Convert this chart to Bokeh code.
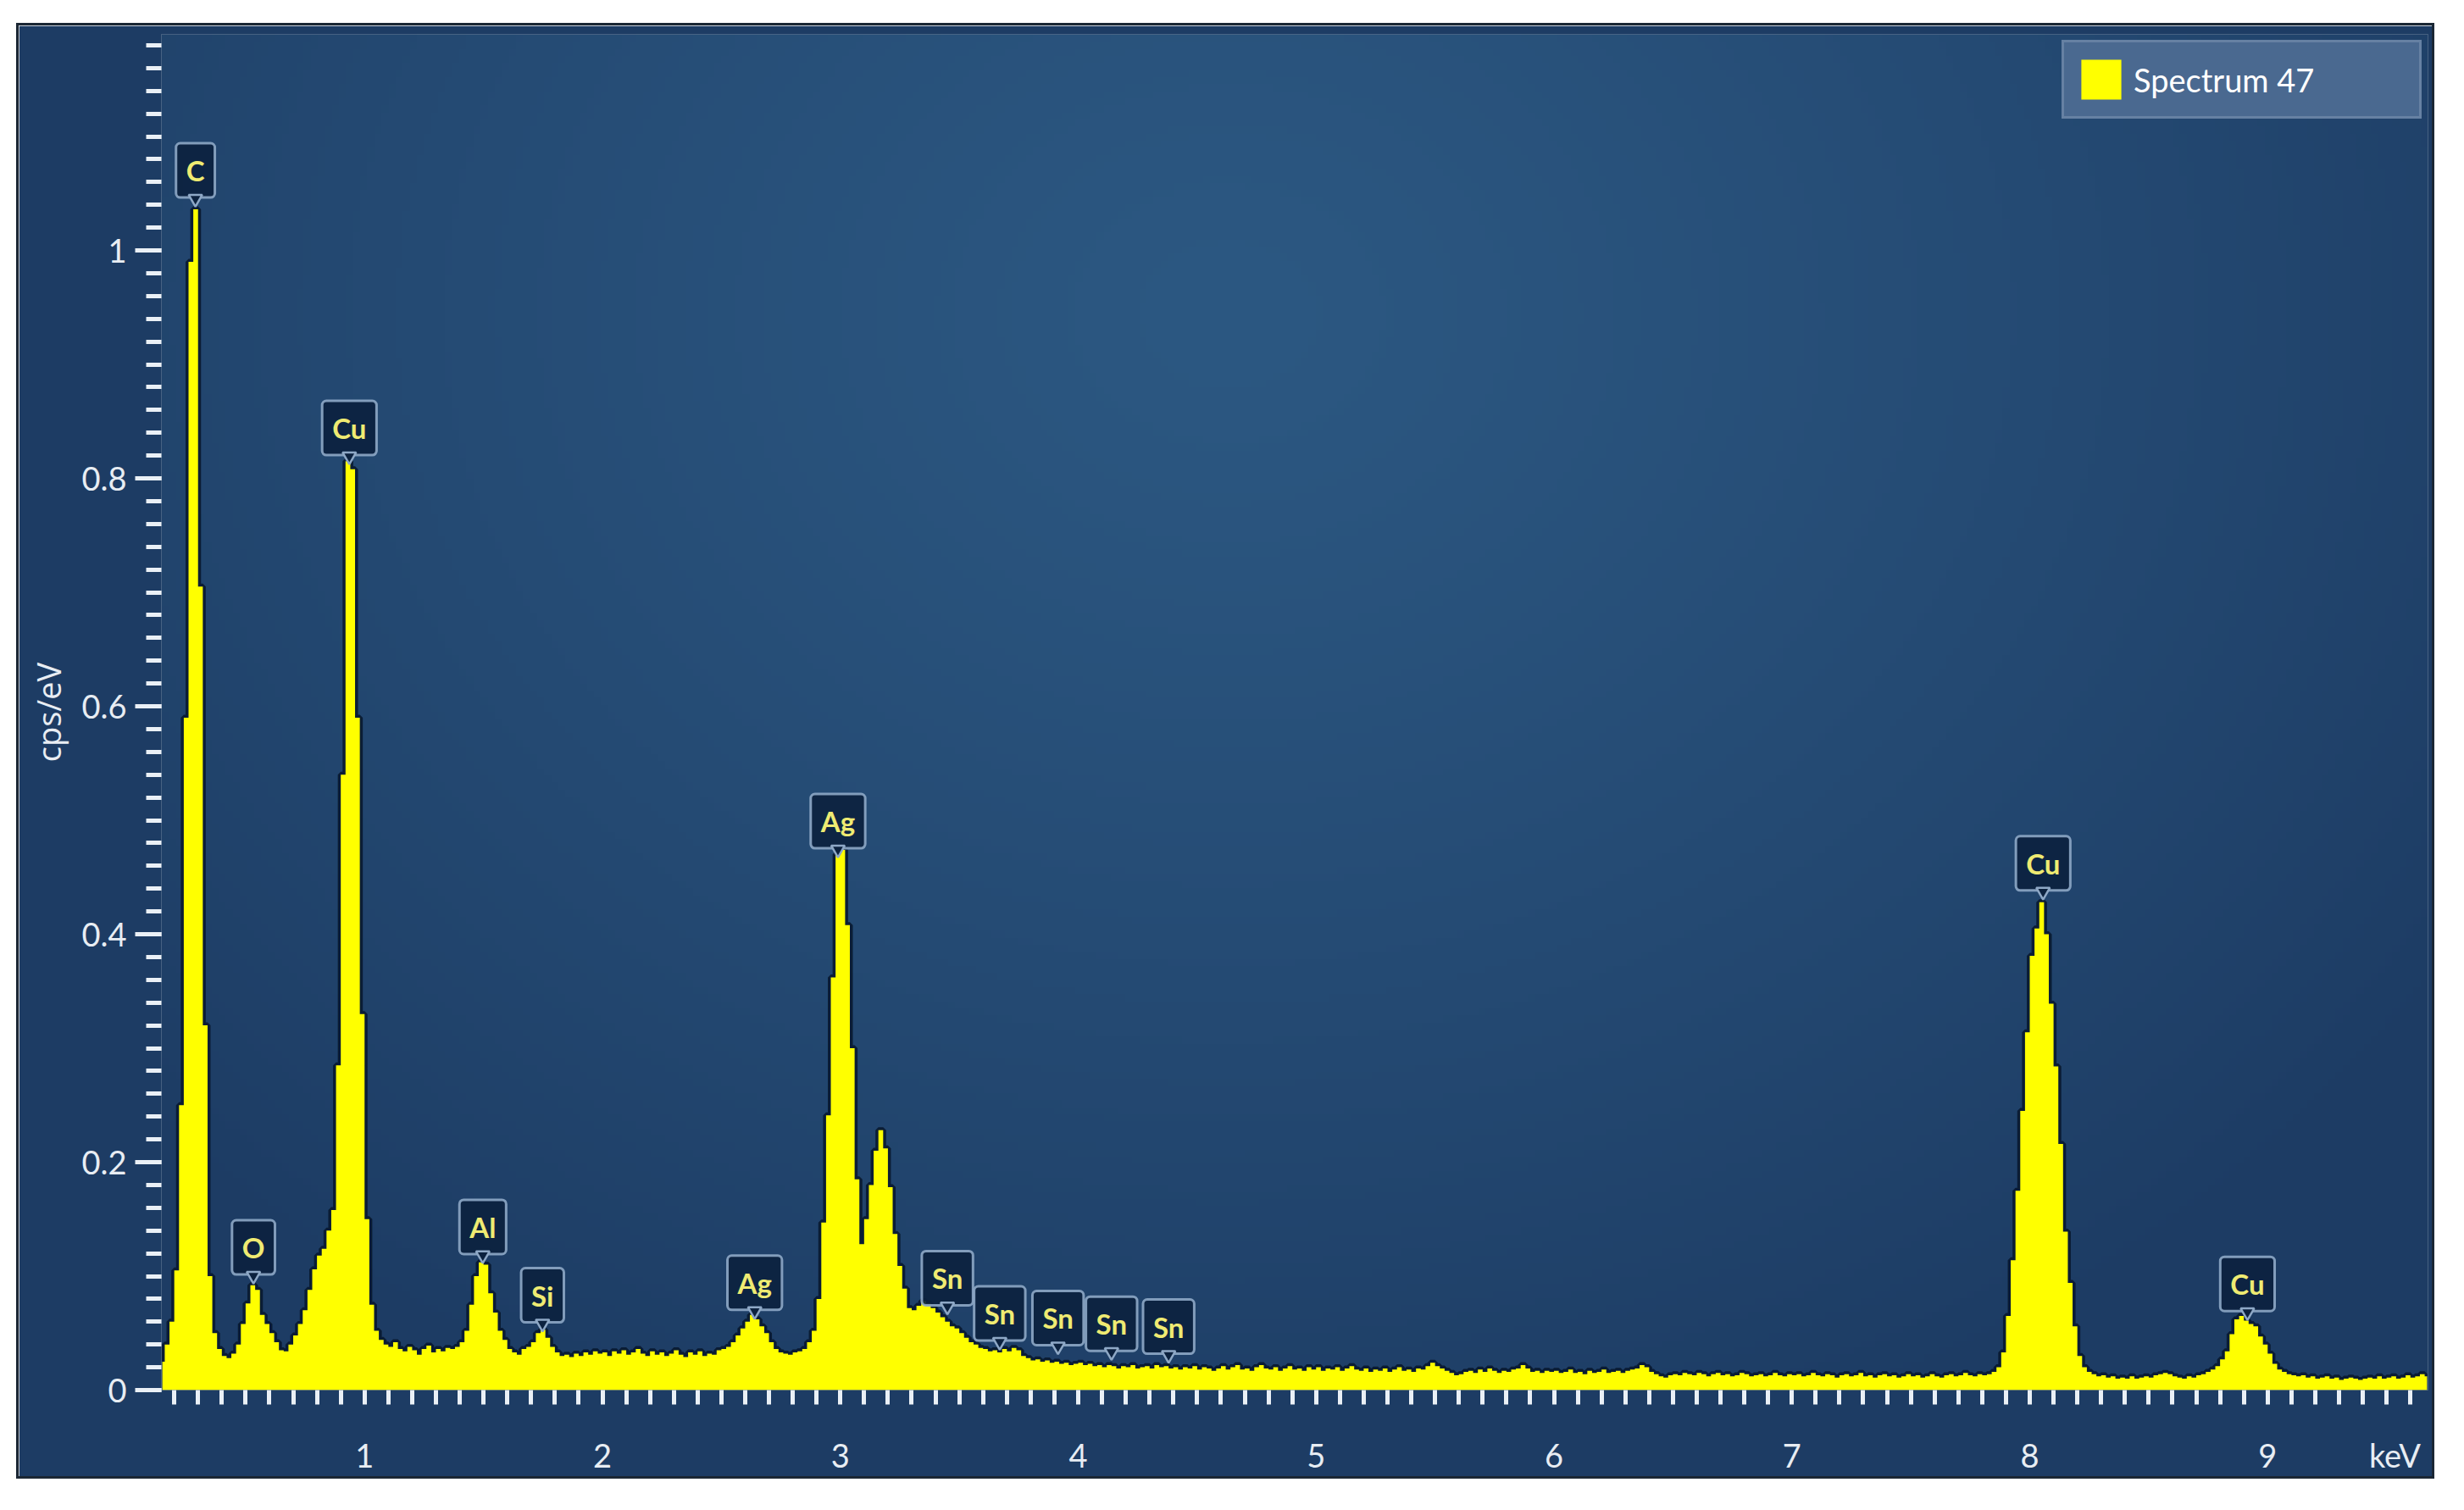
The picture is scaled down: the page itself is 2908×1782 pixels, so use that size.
import numpy as np
from bokeh.plotting import figure
from bokeh.models import Range1d, LinearAxis, FixedTicker, Label, Legend, LegendItem
from bokeh.embed import file_html
from bokeh.resources import INLINE

# ---------------- data ----------------
channel_width_kev = 0.02

# cps/eV per 20 eV channel, channel centres starting at the given energy
cps_0 = [  # 0.15 .. 0.99 keV
    0.025, 0.040, 0.060, 0.105, 0.250, 0.590, 0.990, 1.036, 0.705, 0.320,
    0.100, 0.050, 0.036, 0.030, 0.028, 0.032, 0.040, 0.058, 0.076, 0.092,
    0.088, 0.066, 0.058, 0.050, 0.042, 0.035, 0.034, 0.040, 0.048, 0.058,
    0.070, 0.088, 0.106, 0.118, 0.124, 0.140, 0.158, 0.285, 0.540, 0.815,
    0.808, 0.590, 0.330]
cps_1 = [  # 1.01 .. 1.99 keV
    0.150, 0.075, 0.052, 0.044, 0.040, 0.038, 0.042, 0.036, 0.034, 0.038,
    0.035, 0.031, 0.036, 0.039, 0.033, 0.036, 0.034, 0.037, 0.036, 0.038,
    0.042, 0.052, 0.075, 0.100, 0.112, 0.110, 0.085, 0.068, 0.052, 0.044,
    0.036, 0.033, 0.031, 0.036, 0.038, 0.042, 0.050, 0.053, 0.046, 0.038,
    0.033, 0.030, 0.031, 0.029, 0.032, 0.030, 0.033, 0.031, 0.034, 0.032]
cps_2 = [  # 2.01 .. 2.99 keV
    0.033, 0.030, 0.034, 0.032, 0.035, 0.031, 0.033, 0.036, 0.032, 0.030,
    0.034, 0.031, 0.033, 0.030, 0.032, 0.035, 0.031, 0.029, 0.033, 0.031,
    0.034, 0.030, 0.032, 0.031, 0.035, 0.036, 0.038, 0.042, 0.048, 0.054,
    0.060, 0.066, 0.062, 0.056, 0.050, 0.042, 0.036, 0.033, 0.032, 0.031,
    0.033, 0.034, 0.036, 0.042, 0.052, 0.080, 0.147, 0.241, 0.362, 0.470]
cps_3 = [  # 3.01 .. 3.99 keV
    0.474, 0.408, 0.300, 0.185, 0.128, 0.150, 0.180, 0.210, 0.228, 0.212,
    0.178, 0.137, 0.109, 0.089, 0.072, 0.070, 0.074, 0.078, 0.076, 0.072,
    0.068, 0.064, 0.060, 0.056, 0.054, 0.050, 0.046, 0.042, 0.040, 0.037,
    0.036, 0.034, 0.035, 0.033, 0.036, 0.034, 0.037, 0.035, 0.030, 0.028,
    0.026, 0.027, 0.025, 0.026, 0.024, 0.025, 0.023, 0.024, 0.022, 0.023]
cps_4 = [  # 4.01 .. 4.99 keV
    0.024, 0.022, 0.023, 0.021, 0.022, 0.020, 0.022, 0.021, 0.019, 0.021,
    0.020, 0.022, 0.019, 0.020, 0.021, 0.019, 0.022, 0.020, 0.021, 0.019,
    0.020, 0.018, 0.020, 0.019, 0.021, 0.018, 0.020, 0.019, 0.017, 0.019,
    0.021, 0.018, 0.020, 0.022, 0.018, 0.019, 0.017, 0.020, 0.022, 0.019,
    0.018, 0.020, 0.017, 0.019, 0.021, 0.018, 0.019, 0.017, 0.020, 0.018]
cps_5 = [  # 5.01 .. 5.99 keV
    0.020, 0.017, 0.019, 0.018, 0.020, 0.017, 0.019, 0.021, 0.018, 0.017,
    0.019, 0.016, 0.018, 0.017, 0.019, 0.016, 0.018, 0.020, 0.017, 0.018,
    0.016, 0.019, 0.018, 0.021, 0.024, 0.021, 0.019, 0.017, 0.015, 0.013,
    0.014, 0.016, 0.017, 0.015, 0.018, 0.016, 0.019, 0.017, 0.015, 0.017,
    0.016, 0.018, 0.019, 0.022, 0.019, 0.016, 0.017, 0.015, 0.017, 0.016]
cps_6 = [  # 6.01 .. 6.99 keV
    0.017, 0.015, 0.016, 0.018, 0.015, 0.016, 0.014, 0.017, 0.015, 0.016,
    0.018, 0.015, 0.016, 0.017, 0.015, 0.017, 0.018, 0.019, 0.022, 0.020,
    0.016, 0.014, 0.012, 0.011, 0.013, 0.014, 0.013, 0.015, 0.014, 0.013,
    0.015, 0.014, 0.012, 0.014, 0.015, 0.013, 0.014, 0.012, 0.013, 0.015,
    0.014, 0.012, 0.013, 0.014, 0.012, 0.013, 0.015, 0.013, 0.012, 0.014]
cps_7 = [  # 7.01 .. 7.99 keV
    0.013, 0.014, 0.012, 0.013, 0.015, 0.013, 0.012, 0.014, 0.013, 0.011,
    0.013, 0.014, 0.012, 0.013, 0.015, 0.012, 0.013, 0.011, 0.013, 0.014,
    0.012, 0.013, 0.011, 0.012, 0.014, 0.012, 0.013, 0.011, 0.012, 0.014,
    0.012, 0.011, 0.013, 0.014, 0.012, 0.013, 0.015, 0.013, 0.012, 0.014,
    0.013, 0.014, 0.016, 0.020, 0.033, 0.065, 0.114, 0.175, 0.245, 0.314]
cps_8 = [  # 8.01 .. 8.99 keV
    0.381, 0.405, 0.428, 0.400, 0.339, 0.284, 0.216, 0.139, 0.094, 0.056,
    0.030, 0.020, 0.016, 0.014, 0.012, 0.013, 0.011, 0.012, 0.010, 0.011,
    0.010, 0.012, 0.010, 0.011, 0.012, 0.011, 0.013, 0.014, 0.015, 0.014,
    0.012, 0.011, 0.010, 0.012, 0.011, 0.013, 0.014, 0.016, 0.018, 0.021,
    0.027, 0.034, 0.049, 0.062, 0.065, 0.061, 0.058, 0.056, 0.047, 0.040]
cps_9 = [  # 9.01 .. 9.67 keV
    0.032, 0.023, 0.018, 0.016, 0.014, 0.013, 0.012, 0.013, 0.011, 0.012,
    0.010, 0.011, 0.012, 0.010, 0.011, 0.009, 0.010, 0.011, 0.010, 0.009,
    0.010, 0.011, 0.010, 0.012, 0.010, 0.011, 0.012, 0.010, 0.011, 0.013,
    0.011, 0.012, 0.014, 0.012]
segment_start_kev = [0.15, 1.01, 2.01, 3.01, 4.01, 5.01, 6.01, 7.01, 8.01, 9.01]
segments = [cps_0, cps_1, cps_2, cps_3, cps_4, cps_5, cps_6, cps_7, cps_8, cps_9]

peak_labels = ["C", "O", "Cu", "Al", "Si", "Ag", "Ag", "Sn", "Sn", "Sn", "Sn", "Sn", "Cu", "Cu"]
peak_kev = [0.289, 0.533, 0.936, 1.497, 1.748, 2.64, 2.99, 3.45, 3.67, 3.915, 4.14, 4.38, 8.056, 8.915]
peak_cps = [1.036, 0.091, 0.810, 0.109, 0.049, 0.060, 0.465, 0.064, 0.033, 0.029, 0.024, 0.0215, 0.428, 0.059]

x_major_ticks = [1, 2, 3, 4, 5, 6, 7, 8, 9]
y_major_ticks = [0, 0.2, 0.4, 0.6, 0.8, 1.0]
y_tick_labels = {0: "0", 0.2: "0.2", 0.4: "0.4", 0.6: "0.6", 0.8: "0.8", 1.0: "1"}
legend_label = "Spectrum 47"
x_unit = "keV"
x_unit_at = 9.535
y_title = "cps/eV"

energy, cps = [], []
for start, vals in zip(segment_start_kev, segments):
    for i, v in enumerate(vals):
        energy.append(round(start + i * channel_width_kev, 3))
        cps.append(v)

# ---------------- layout / style ----------------
FONT = "Lato"
X_START, X_END = 0.146, 9.674
Y_START, Y_END = 0.0, 1600 / 1345
FRAME_W, FRAME_H = 2675, 1600
PX_PER_CPS = FRAME_H / (Y_END - Y_START)
EDGE = "#1d3c64"
TICK_COL = "#eaf0f6"
LABEL_COL = "#e8edf3"
X_LABEL_STANDOFF = 21
X_MAJOR_LEN = 32

p = figure(frame_width=FRAME_W, frame_height=FRAME_H,
           x_range=Range1d(X_START, X_END), y_range=Range1d(Y_START, Y_END),
           output_backend="svg", toolbar_location=None,
           min_border_left=168, min_border_right=5, min_border_top=10, min_border_bottom=101,
           border_fill_color=EDGE, background_fill_color=EDGE, outline_line_color=None)
p.grid.visible = False
p.styles = {"margin-left": "22px", "margin-top": "30px", "outline": "3px solid #1b2734"}

# radial glow of the background
nx, ny = 320, 192
gx = (np.arange(nx) + 0.5) / nx * FRAME_W
gy = (1 - (np.arange(ny) + 0.5) / ny) * FRAME_H
GX, GY = np.meshgrid(gx, gy)
t = np.clip(np.sqrt(((GX - 1260) / 1750) ** 2 + ((GY - 330) / 1450) ** 2), 0, 1) ** 1.2
c0 = np.array([44, 88, 130], dtype=float)
c1 = np.array([29, 60, 100], dtype=float)
rgb = c0[None, None, :] * (1 - t[..., None]) + c1[None, None, :] * t[..., None]
img = np.zeros((ny, nx), dtype=np.uint32)
view = img.view(dtype=np.uint8).reshape((ny, nx, 4))
view[..., :3] = rgb.astype(np.uint8)
view[..., 3] = 255
p.image_rgba(image=[img], x=X_START, y=Y_START, dw=X_END - X_START, dh=Y_END - Y_START)

# spectrum: dark halo then yellow filled histogram
p.step(x=energy, y=cps, mode="center", line_color="#07162b", line_width=7, line_alpha=0.85)
try:
    area = p.varea_step(x=energy, y1=0, y2=cps, step_mode="center",
                        fill_color="#ffff00", fill_alpha=1.0)
except AttributeError:
    xs, ys = [energy[0] - channel_width_kev / 2], [0]
    for e, v in zip(energy, cps):
        xs += [e - channel_width_kev / 2, e + channel_width_kev / 2]
        ys += [v, v]
    xs.append(energy[-1] + channel_width_kev / 2)
    ys.append(0)
    area = p.patch(xs, ys, fill_color="#ffff00", line_color=None)

# ---------------- axes ----------------
# primary x axis: labels (integers + unit) and 0.1 keV minor ticks; its major tick marks are hidden
xa = p.xaxis[0]
x_label_map = {float(v): str(v) for v in x_major_ticks}
x_label_map[x_unit_at] = x_unit
xa.ticker = FixedTicker(ticks=[float(v) for v in x_major_ticks] + [x_unit_at],
                        minor_ticks=[round(0.2 + 0.1 * i, 1) for i in range(95)])
xa.major_label_overrides = x_label_map
ya = p.yaxis[0]
ya.ticker = FixedTicker(ticks=y_major_ticks,
                        minor_ticks=[round(0.02 * i, 2) for i in range(60)])
ya.major_label_overrides = y_tick_labels
for ax in (xa, ya):
    ax.axis_line_color = None
    ax.major_tick_in = 0
    ax.minor_tick_in = 0
    ax.major_tick_line_color = TICK_COL
    ax.minor_tick_line_color = TICK_COL
    ax.major_tick_line_width = 5
    ax.minor_tick_line_width = 5
    ax.major_label_text_font = FONT
    ax.major_label_text_font_size = "38px"
    ax.major_label_text_color = LABEL_COL
xa.major_tick_line_color = None
xa.major_tick_out = X_MAJOR_LEN
xa.minor_tick_out = 17
xa.major_label_standoff = X_LABEL_STANDOFF
ya.major_tick_out = 31
ya.minor_tick_out = 18
ya.major_label_standoff = 10
ya.axis_label = y_title
ya.axis_label_text_font = "Open Sans"
ya.axis_label_text_font_size = "38px"
ya.axis_label_text_font_style = "normal"
ya.axis_label_text_color = LABEL_COL
ya.axis_label_standoff = 10

# extra tick levels drawn on the same baselines, as minor ticks of fixed axes
xa_int = LinearAxis(ticker=FixedTicker(ticks=[], minor_ticks=[float(v) for v in x_major_ticks]),
                    fixed_location=0)
xa_half = LinearAxis(ticker=FixedTicker(ticks=[], minor_ticks=[i + 0.5 for i in range(10)]),
                     fixed_location=0)
ya_half = LinearAxis(ticker=FixedTicker(ticks=[], minor_ticks=[round(0.1 + 0.2 * i, 1) for i in range(6)]),
                     fixed_location=X_START)
for ax, ln in ((xa_int, X_MAJOR_LEN), (xa_half, 24), (ya_half, 25)):
    ax.axis_line_color = None
    ax.major_tick_in = 0
    ax.major_tick_out = 0
    ax.minor_tick_in = 0
    ax.minor_tick_out = ln
    ax.minor_tick_line_color = TICK_COL
    ax.minor_tick_line_width = 5
p.add_layout(xa_int, "below")
p.add_layout(xa_half, "below")
p.add_layout(ya_half, "left")

# ---------------- peak labels ----------------
BOX_FILL = "#0c223f"
BOX_LINE = "#8ea8c6"
for name, xk, yc in zip(peak_labels, peak_kev, peak_cps):
    p.add_layout(Label(x=xk, y=yc, y_offset=46, text=name, text_align="center",
                       text_baseline="middle", text_font=FONT, text_font_size="33px",
                       text_font_style="bold", text_color="#efeb72",
                       background_fill_color=BOX_FILL, background_fill_alpha=0.92,
                       border_line_color=BOX_LINE, border_line_width=3, border_line_alpha=0.9,
                       padding=dict(left=12, right=12, top=12, bottom=12), border_radius=5))
p.scatter(x=peak_kev, y=[c + 12.5 / PX_PER_CPS for c in peak_cps], marker="inverted_triangle",
          size=16, fill_color=BOX_FILL, line_color=BOX_LINE, line_width=2.5, level="overlay")

# ---------------- legend ----------------
legend = Legend(items=[LegendItem(label=legend_label, renderers=[area])], location="top_right",
                margin=7, padding=14, spacing=0, glyph_width=59, glyph_height=59,
                label_standoff=9, label_width=323,
                label_text_font=FONT, label_text_font_size="38px", label_text_color="white",
                background_fill_color="#4a6990", background_fill_alpha=1.0,
                border_line_color="#8299b6", border_line_width=3)
p.add_layout(legend)

open("out.html", "w").write(file_html(p, INLINE))
